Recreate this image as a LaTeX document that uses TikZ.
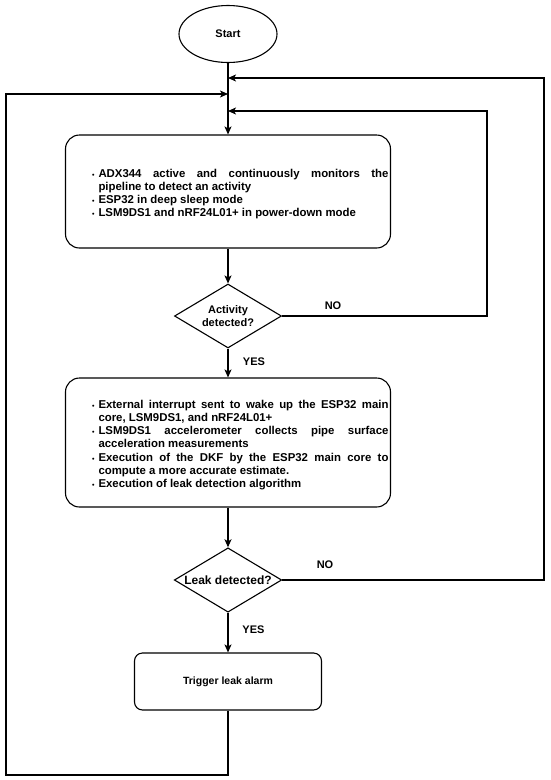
\documentclass[tikz,border=0pt]{standalone}
\usepackage{fontspec}
\setmainfont{Liberation Sans}
\usetikzlibrary{shapes.geometric,arrows.meta,positioning}
\tikzstyle{startnode}=[draw, ellipse, line width=1.1pt, minimum width=98pt, minimum height=57pt, font=\bfseries\fontsize{11}{13}\selectfont]
\tikzstyle{processbox}=[draw, rectangle, rounded corners=14pt, line width=1.1pt, minimum width=325pt, inner sep=0pt, align=justify, font=\bfseries\fontsize{11.4}{13.2}\selectfont]
\tikzstyle{alarmbox}=[draw, rectangle, rounded corners=8pt, line width=1.1pt, minimum width=187pt, minimum height=57pt, font=\bfseries\fontsize{10.5}{13}\selectfont]
\tikzstyle{decisionnode}=[draw, diamond, aspect=1.67, line width=1.1pt, minimum width=107pt, minimum height=64pt, inner sep=1pt, align=center, font=\bfseries\fontsize{11}{13}\selectfont]
\tikzstyle{branchlabel}=[inner sep=0pt, font=\bfseries\fontsize{11}{13}\selectfont]
\tikzstyle{flowTransition}=[line width=1.1pt, -{Stealth[length=8pt,width=7pt,inset=2pt]}]
\newenvironment{boxlist}{\begin{list}{{\scriptsize\textbullet}}{\setlength\leftmargin{31pt}\setlength\rightmargin{0pt}\setlength\labelwidth{6pt}\setlength\labelsep{4pt}\setlength\itemsep{0pt}\setlength\topsep{0pt}\setlength\partopsep{0pt}\setlength\parsep{0pt}}\hyphenpenalty=10000\exhyphenpenalty=10000\rightskip=0pt\parfillskip=0pt plus 1fil}{\end{list}}

\begin{document}
\begin{tikzpicture}[x=1pt, y=-1pt]
    \useasboundingbox (0,0) rectangle (550,780);

    \node[startnode] (start) at (228, 34) {Start};

    \node[processbox, minimum height=113pt, text width=321pt] (monitor) at (228, 191.5) {%
        \begin{boxlist}
        \item ADX344 active and continuously monitors the\linebreak pipeline to detect an activity
        \item ESP32 in deep sleep mode
        \item LSM9DS1 and nRF24L01+ in power-down mode
        \end{boxlist}};

    \node[decisionnode] (activity) at (228, 316) {Activity\\detected?};

    \node[processbox, minimum height=129pt, text width=321pt] (wakeup) at (228, 442.5) {%
        \begin{boxlist}
        \item External interrupt sent to wake up the ESP32 main core, LSM9DS1, and nRF24L01+
        \item LSM9DS1 accelerometer collects pipe surface acceleration measurements
        \item Execution of the DKF by the ESP32 main core to compute a more accurate estimate.
        \item Execution of leak detection algorithm
        \end{boxlist}};

    \node[decisionnode, font=\bfseries\fontsize{12}{14}\selectfont] (leak) at (228, 580) {Leak detected?};

    \node[alarmbox] (alarm) at (228, 681.5) {Trigger leak alarm};

    % Points on the main line and loop corners
    \coordinate (joinA) at (228, 78);
    \coordinate (joinB) at (228, 94);
    \coordinate (joinC) at (228, 111);
    \coordinate (outerCorner) at (544, 78);
    \coordinate (innerCorner) at (487, 111);
    \coordinate (loopBottom) at (6, 775);

    % Main flow
    \draw[flowTransition] (start) -- (monitor);
    \draw[flowTransition] (monitor) -- (activity);
    \draw[flowTransition] (activity) -- (wakeup);
    \draw[flowTransition] (wakeup) -- (leak);
    \draw[flowTransition] (leak) -- (alarm);

    % Loops back
    \draw[flowTransition] (activity.east) -| (innerCorner) -- (joinC);
    \draw[flowTransition] (leak.east) -| (outerCorner) -- (joinA);
    \draw[flowTransition] (alarm.south) |- (loopBottom) |- (joinB);

    % Branch labels
    \node[branchlabel] (noActivity) at (333, 306) {NO};
    \node[branchlabel] (yesActivity) at (254, 362) {YES};
    \node[branchlabel] (noLeak) at (325, 565) {NO};
    \node[branchlabel] (yesLeak) at (253.5, 630) {YES};

\end{tikzpicture}
\end{document}
